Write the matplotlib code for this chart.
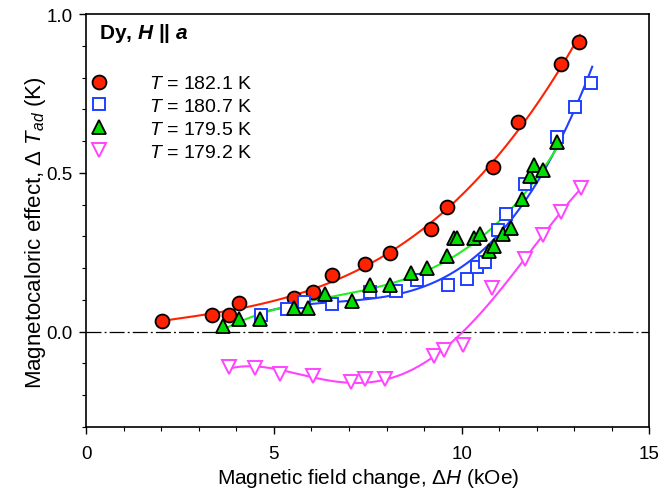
import numpy as np
import matplotlib.pyplot as plt

plt.rcParams['font.family'] = ['Liberation Sans', 'DejaVu Sans']
plt.rcParams['mathtext.fontset'] = 'custom'
plt.rcParams['mathtext.rm'] = 'Liberation Sans'
plt.rcParams['mathtext.it'] = 'Liberation Sans:italic'
plt.rcParams['mathtext.bf'] = 'Liberation Sans:bold'
plt.rcParams['mathtext.bfit'] = 'Liberation Sans:bold:italic'

# T = 182.1 K
x_red = [2.01, 3.36, 3.80, 4.07, 5.54, 6.05, 6.54, 7.43, 8.10, 9.19, 9.61, 10.85, 11.50, 12.64, 13.12]
y_red = [0.035, 0.053, 0.053, 0.091, 0.107, 0.125, 0.179, 0.212, 0.248, 0.322, 0.392, 0.519, 0.661, 0.843, 0.913]

# T = 180.7 K
x_blue = [4.65, 5.34, 5.80, 6.54, 7.56, 8.25, 8.81, 9.63, 10.15, 10.40, 10.63, 10.97, 11.18, 11.70, 12.53, 13.01, 13.44]
y_blue = [0.053, 0.072, 0.093, 0.088, 0.125, 0.129, 0.164, 0.148, 0.167, 0.203, 0.219, 0.319, 0.370, 0.464, 0.612, 0.707, 0.782]

# T = 179.5 K
x_green = [3.64, 4.08, 4.63, 5.54, 5.92, 6.36, 7.07, 7.56, 8.09, 8.66, 9.09, 9.61, 9.79, 9.88, 10.33, 10.49,
           10.72, 10.86, 11.11, 11.32, 11.61, 11.81, 11.93, 12.18, 12.55]
y_green = [0.018, 0.041, 0.039, 0.075, 0.075, 0.119, 0.095, 0.148, 0.148, 0.184, 0.201, 0.238, 0.295, 0.295, 0.295, 0.308,
           0.253, 0.271, 0.308, 0.328, 0.417, 0.489, 0.525, 0.509, 0.597]

# T = 179.2 K
x_mag = [3.80, 4.49, 5.16, 6.05, 7.05, 7.42, 7.96, 9.27, 9.52, 10.04, 10.81, 11.68, 12.18, 12.66, 13.19]
y_mag = [-0.111, -0.114, -0.132, -0.139, -0.158, -0.150, -0.150, -0.076, -0.059, -0.041, 0.137, 0.230, 0.303, 0.376, 0.452]

series = [
    (x_red, y_red, r'$T$ = 182.1 K', dict(marker='o', ms=10, mfc='#ff2200', mec='black', mew=1.3), '#ff2200', 3, (2.0, 13.15)),
    (x_blue, y_blue, r'$T$ = 180.7 K', dict(marker='s', ms=9, mfc='white', mec='#2040ff', mew=1.4), '#2040ff', 3, (4.5, 13.48)),
    (x_green, y_green, r'$T$ = 179.5 K', dict(marker='^', ms=9.5, mfc='#00dd00', mec='black', mew=1.3), '#22ee22', 3, (3.7, 12.7)),
    (x_mag, y_mag, r'$T$ = 179.2 K', dict(marker='v', ms=9.5, mfc='white', mec='#ff44ff', mew=1.4), '#ff44ff', 4, (3.8, 13.2)),
]

fig = plt.figure(figsize=(6.68, 4.89), dpi=100)
ax = fig.add_axes([0.129, 0.125, 0.843, 0.844])

ax.axhline(0, color='black', lw=0.9, ls=(0, (12, 2.5, 1.5, 2.5)), zorder=1)

for xs, ys, label, mk, lc, deg, (x0, x1) in series:
    coef = np.polyfit(xs, ys, deg)
    xf = np.linspace(x0, x1, 200)
    ax.plot(xf, np.polyval(coef, xf), color=lc, lw=1.5, zorder=2)

handles = []
for xs, ys, label, mk, lc, deg, rng in series:
    h, = ax.plot(xs, ys, ls='none', label=label, zorder=3, **mk)
    handles.append(h)

ax.legend(handles=handles, loc='upper left', bbox_to_anchor=(-0.012, 0.872), frameon=False,
          fontsize=14, handlelength=1.2, handletextpad=2.0, labelspacing=0.27, borderaxespad=0)

ax.text(0.023, 0.956, r'Dy, $\mathbfit{H}$ || $\mathbfit{a}$', transform=ax.transAxes,
        fontsize=15, fontweight='bold', va='center', ha='left')

ax.set_xlim(0, 15)
ax.set_ylim(-0.3, 1.0)
ax.set_xticks([0, 5, 10, 15])
ax.set_xticks(np.arange(0, 16, 1), minor=True)
ax.set_yticks([0.0, 0.5, 1.0])
ax.set_yticks(np.arange(-0.3, 1.01, 0.1), minor=True)
ax.yaxis.set_major_formatter(plt.FormatStrFormatter('%.1f'))
ax.tick_params(which='major', direction='out', length=5, width=1, labelsize=13.5)
ax.tick_params(axis='x', which='major', pad=8)
ax.tick_params(axis='y', which='major', pad=5)
ax.tick_params(which='minor', direction='out', length=3, width=0.8)
for s in ax.spines.values():
    s.set_linewidth(1.2)

ax.set_xlabel(r'Magnetic field change, Δ$H$ (kOe)', fontsize=15, labelpad=3)
ax.set_ylabel(r'Magnetocaloric effect, Δ $T_{ad}$ (K)', fontsize=16)
ax.yaxis.set_label_coords(-0.068, 0.472)

fig.savefig('out.png', dpi=100)
